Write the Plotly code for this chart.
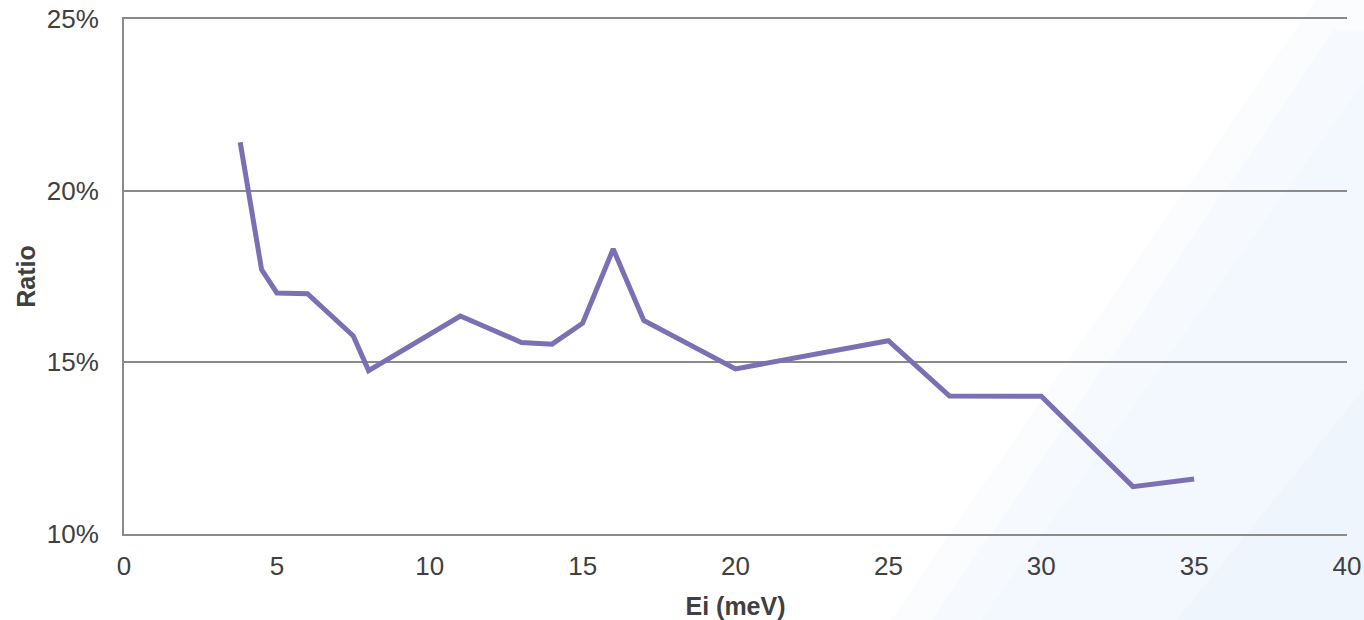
import plotly.graph_objects as go

ei_mev = [3.8, 4.5, 5, 6, 7.5, 8, 11, 13, 14, 15, 16, 17, 20, 25, 27, 30, 33, 35]
ratio = [0.2141, 0.1770, 0.1702, 0.1700, 0.1577, 0.1476, 0.1635, 0.1558, 0.1553,
         0.1614, 0.1830, 0.1622, 0.1481, 0.1563, 0.1402, 0.1401, 0.1138, 0.1160]

x_ticks = [0, 5, 10, 15, 20, 25, 30, 35, 40]
y_ticks = [0.10, 0.15, 0.20, 0.25]

fig = go.Figure()
fig.add_trace(go.Scatter(
    x=ei_mev, y=ratio, mode="lines",
    line=dict(color="#7c6fb4", width=5),
    showlegend=False, hoverinfo="skip"))

# faint diagonal light-blue wash in lower-right corner (background decoration)
wash = [
    ("M 0.626 -0.17 L 0.975 1.04 L 1.02 1.04 L 1.02 -0.17 Z", "rgba(230,240,252,0.22)"),
    ("M 0.66 -0.17 L 0.99 0.98 L 1.02 0.98 L 1.02 -0.17 Z", "rgba(230,240,252,0.15)"),
    ("M 0.70 -0.17 L 1.02 0.90 L 1.02 -0.17 Z", "rgba(230,240,252,0.15)"),
    ("M 0.86 -0.17 L 1.02 0.30 L 1.02 -0.17 Z", "rgba(222,234,250,0.25)"),
]
shapes = [dict(type="path", xref="paper", yref="paper", path=p, fillcolor=c,
               line=dict(width=0), layer="below") for p, c in wash]

fig.update_layout(
    width=1364, height=620,
    margin=dict(l=124, r=17, t=19, b=86, autoexpand=False),
    paper_bgcolor="white", plot_bgcolor="rgba(0,0,0,0)",
    font=dict(family="Liberation Sans, Arial, sans-serif", color="#404040"),
    shapes=shapes,
    xaxis=dict(
        range=[0, 40], tickvals=x_ticks, ticktext=[str(v) for v in x_ticks],
        showgrid=False, zeroline=False, automargin=False,
        showline=True, mirror=True, linecolor="#8a8a8a", linewidth=2,
        ticks="outside", ticklen=8, tickcolor="rgba(0,0,0,0)",
        tickfont=dict(size=26, color="#404040"),
        title=dict(text="<b>Ei (meV)</b>", font=dict(size=25, color="#404040"), standoff=18),
    ),
    yaxis=dict(
        range=[0.10, 0.25], tickvals=y_ticks, tickformat=".0%",
        showgrid=True, gridcolor="#8a8a8a", gridwidth=2,
        zeroline=False, automargin=False,
        showline=True, linecolor="#8a8a8a", linewidth=2,
        ticks="outside", ticklen=18, tickcolor="rgba(0,0,0,0)",
        tickfont=dict(size=26, color="#404040"),
        title=dict(text="<b>Ratio</b>", font=dict(size=25, color="#404040"), standoff=4),
    ),
)

fig.write_html(
    "out.html",
    config={"displayModeBar": False},
    post_script="document.body.style.margin='0';document.body.style.overflow='hidden';",
)
